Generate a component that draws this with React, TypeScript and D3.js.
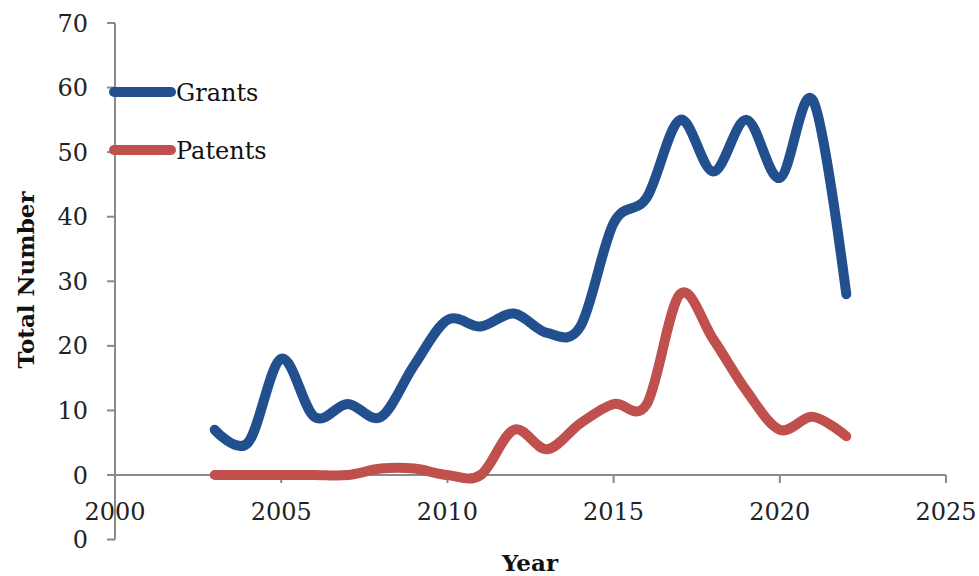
import React from "react";
import * as d3 from "d3";

const years = [2003, 2004, 2005, 2006, 2007, 2008, 2009, 2010, 2011, 2012, 2013, 2014, 2015, 2016, 2017, 2018, 2019, 2020, 2021, 2022];
const grants = [7, 5, 18, 9, 11, 9, 17, 24, 23, 25, 22, 23, 39, 43, 55, 47, 55, 46, 58, 28];
const patents = [0, 0, 0, 0, 0, 1, 1, 0, 0, 7, 4, 8, 11, 11, 28, 21, 13, 7, 9, 6];
const xTicks = [2000, 2005, 2010, 2015, 2020, 2025];
const yTicks = [-10, 0, 10, 20, 30, 40, 50, 60, 70];
const yTickLabels = ["0", "0", "10", "20", "30", "40", "50", "60", "70"];

const seriesList = [
  { name: "Grants", values: grants, color: "#22508e" },
  { name: "Patents", values: patents, color: "#c0504d" },
];

const W = 979;
const H = 576;
const FONT = "'DejaVu Serif', 'Liberation Serif', serif";

export default function App() {
  const x = d3.scaleLinear().domain([2000, 2025]).range([115, 946]);
  const y = d3.scaleLinear().domain([0, 70]).range([475, 23]);
  const axisColor = "#8a8a8a";

  const line = (vals: number[]) =>
    d3
      .line<number>()
      .x((_, i) => x(years[i]))
      .y((v) => y(v))
      .curve(d3.curveCatmullRom.alpha(0))(vals) as string;

  return (
    <svg
      width={W}
      height={H}
      style={{ position: "absolute", left: 0, top: 0, background: "#fff" }}
      fontFamily={FONT}
    >
      {/* y axis */}
      <line x1={x(2000)} x2={x(2000)} y1={y(70)} y2={y(-10)} stroke={axisColor} strokeWidth={2} />
      {yTicks.map((t, i) => (
        <g key={"yt" + t}>
          <line x1={x(2000) - 8} x2={x(2000)} y1={y(t)} y2={y(t)} stroke={axisColor} strokeWidth={2} />
          <text x={88} y={y(t)} dy="0.36em" textAnchor="end" fontSize={24} fill="#222">
            {yTickLabels[i]}
          </text>
        </g>
      ))}
      {/* x axis */}
      <line x1={x(2000)} x2={x(2025)} y1={y(0)} y2={y(0)} stroke={axisColor} strokeWidth={2} />
      {xTicks.map((t) => (
        <g key={"xt" + t}>
          <line x1={x(t)} x2={x(t)} y1={y(0)} y2={y(0) + 8} stroke={axisColor} strokeWidth={2} />
          <text x={x(t)} y={y(0) + 36} dy="0.36em" textAnchor="middle" fontSize={24} fill="#222">
            {t}
          </text>
        </g>
      ))}
      {/* series */}
      {seriesList.map((s) => (
        <path
          key={s.name}
          d={line(s.values)}
          fill="none"
          stroke={s.color}
          strokeWidth={10}
          strokeLinecap="round"
          strokeLinejoin="round"
        />
      ))}
      {/* legend */}
      {seriesList.map((s, i) => (
        <g key={"lg" + s.name} transform={`translate(0, ${92 + i * 58})`}>
          <line x1={114} x2={171} y1={0} y2={0} stroke={s.color} strokeWidth={10} strokeLinecap="round" />
          <text x={176} y={0} dy="0.36em" fontSize={24} fill="#111">
            {s.name}
          </text>
        </g>
      ))}
      {/* axis titles */}
      <text
        transform={`translate(26, 280) rotate(-90)`}
        textAnchor="middle"
        dy="0.36em"
        fontSize={23}
        fontWeight="bold"
        fill="#111"
      >
        Total Number
      </text>
      <text x={530} y={563} dy="0.36em" textAnchor="middle" fontSize={23} fontWeight="bold" fill="#111">
        Year
      </text>
    </svg>
  );
}
